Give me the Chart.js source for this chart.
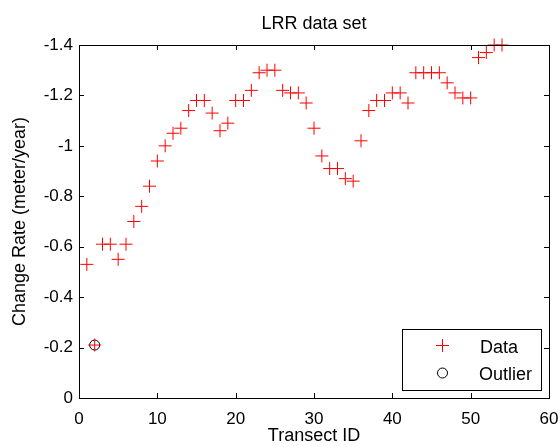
<!DOCTYPE html>
<html lang="en">
<head>
    <meta charset="UTF-8">
    <title>LRR data set</title>
    <script src="https://cdn.jsdelivr.net/npm/chart.js"></script>
    <style>
        body {
            margin: 0;
            background-color: white;
        }
        #lrrChart {
            display: block;
        }
    </style>
</head>
<body>
    <canvas id="lrrChart" width="560" height="447"></canvas>

    <script>
        // values
        const transectIds = [1, 2, 3, 4, 5, 6, 7, 8, 9, 10, 11, 12, 13, 14, 15, 16, 17, 18,
            19, 20, 21, 22, 23, 24, 25, 26, 27, 28, 29, 30, 31, 32, 33, 34, 35, 36, 37,
            38, 39, 40, 41, 42, 43, 44, 45, 46, 47, 48, 49, 50, 51, 52, 53, 54];
        const changeRates = [-0.53, -0.21, -0.61, -0.61, -0.55, -0.61, -0.70, -0.76, -0.84, -0.94,
            -1.00, -1.05, -1.07, -1.14, -1.18, -1.18, -1.13, -1.06, -1.09, -1.18,
            -1.18, -1.22, -1.29, -1.30, -1.30, -1.22, -1.21, -1.21, -1.17, -1.07,
            -0.96, -0.91, -0.91, -0.87, -0.86, -1.02, -1.14, -1.18, -1.18, -1.21,
            -1.21, -1.17, -1.29, -1.29, -1.29, -1.29, -1.25, -1.21, -1.19, -1.19,
            -1.35, -1.37, -1.40, -1.40];
        const outlierIds = [2];
        const outlierRates = [-0.21];
        const xTicks = [0, 10, 20, 30, 40, 50, 60];
        const yTicks = [0, -0.2, -0.4, -0.6, -0.8, -1, -1.2, -1.4];

        const FONT = 'Liberation Sans, Arial, sans-serif';

        const toPoints = (xs, ys) => xs.map((x, i) => ({ x: x, y: ys[i] }));

        // title, box with inward ticks on all sides, and the legend
        const matlabFrame = {
            id: 'matlabFrame',
            afterDraw(chart) {
                const ctx = chart.ctx;
                const a = chart.chartArea;
                const xs = chart.scales.x;
                const ys = chart.scales.y;
                ctx.save();
                ctx.strokeStyle = '#000';
                ctx.lineWidth = 1;
                ctx.strokeRect(Math.round(a.left) + 0.5, Math.round(a.top) + 0.5,
                    Math.round(a.right - a.left), Math.round(a.bottom - a.top));

                ctx.beginPath();
                xTicks.forEach(v => {
                    const px = Math.round(xs.getPixelForValue(v)) + 0.5;
                    ctx.moveTo(px, a.bottom); ctx.lineTo(px, a.bottom - 5);
                    ctx.moveTo(px, a.top); ctx.lineTo(px, a.top + 5);
                });
                yTicks.forEach(v => {
                    const py = Math.round(ys.getPixelForValue(v)) + 0.5;
                    ctx.moveTo(a.left, py); ctx.lineTo(a.left + 5, py);
                    ctx.moveTo(a.right, py); ctx.lineTo(a.right - 5, py);
                });
                ctx.stroke();

                // title
                ctx.fillStyle = '#000';
                ctx.font = '18px ' + FONT;
                ctx.textAlign = 'center';
                ctx.textBaseline = 'alphabetic';
                ctx.fillText('LRR data set', (a.left + a.right) / 2, 29);

                // legend
                const lx = 402.5, ly = 329.5, lw = 139, lh = 61;
                ctx.fillStyle = '#fff';
                ctx.fillRect(lx, ly, lw, lh);
                ctx.strokeStyle = '#000';
                ctx.strokeRect(lx, ly, lw, lh);

                ctx.strokeStyle = '#ff0000';
                ctx.beginPath();
                ctx.moveTo(436, 345.5); ctx.lineTo(449, 345.5);
                ctx.moveTo(442.5, 339); ctx.lineTo(442.5, 352);
                ctx.stroke();

                ctx.strokeStyle = '#000';
                ctx.beginPath();
                ctx.arc(442.5, 373, 5, 0, Math.PI * 2);
                ctx.stroke();

                ctx.fillStyle = '#000';
                ctx.font = '18px ' + FONT;
                ctx.textAlign = 'left';
                ctx.fillText('Data', 480, 353);
                ctx.fillText('Outlier', 479, 380);
                ctx.restore();
            }
        };

        new Chart(document.getElementById('lrrChart'), {
            type: 'scatter',
            data: {
                datasets: [{
                    label: 'Data',
                    data: toPoints(transectIds, changeRates),
                    pointStyle: 'cross',
                    pointRadius: 6.5,
                    pointHoverRadius: 6.5,
                    borderColor: '#ff0000',
                    backgroundColor: '#ff0000',
                    pointBorderWidth: 1,
                    clip: false
                }, {
                    label: 'Outlier',
                    data: toPoints(outlierIds, outlierRates),
                    pointStyle: 'circle',
                    pointRadius: 5,
                    pointHoverRadius: 5,
                    borderColor: '#000',
                    backgroundColor: 'rgba(0,0,0,0)',
                    pointBorderWidth: 1,
                    clip: false
                }]
            },
            options: {
                responsive: false,
                animation: false,
                devicePixelRatio: 1,
                layout: {
                    padding: { top: 45, right: 11, left: 0, bottom: 0 }
                },
                plugins: {
                    legend: { display: false },
                    title: { display: false },
                    tooltip: { enabled: false }
                },
                scales: {
                    x: {
                        type: 'linear',
                        min: 0,
                        max: 60,
                        afterFit: s => { s.height = 49; s.paddingLeft = 0; s.paddingRight = 0; },
                        afterBuildTicks: s => { s.ticks = xTicks.map(v => ({ value: v })); },
                        grid: { display: false, drawTicks: false },
                        border: { display: false },
                        ticks: {
                            color: '#000',
                            padding: 11,
                            font: { family: FONT, size: 17 }
                        },
                        title: {
                            display: true,
                            text: 'Transect ID',
                            color: '#000',
                            padding: { top: 0, bottom: 0 },
                            font: { family: FONT, size: 18 }
                        }
                    },
                    y: {
                        type: 'linear',
                        min: -1.4,
                        max: 0,
                        reverse: true,
                        afterFit: s => { s.width = 79; s.paddingTop = 0; s.paddingBottom = 0; },
                        afterBuildTicks: s => { s.ticks = yTicks.map(v => ({ value: v })); },
                        grid: { display: false, drawTicks: false },
                        border: { display: false },
                        ticks: {
                            color: '#000',
                            padding: 6,
                            font: { family: FONT, size: 17 },
                            callback: v => String(Math.round(v * 10) / 10)
                        },
                        title: {
                            display: true,
                            text: 'Change Rate (meter/year)',
                            color: '#000',
                            padding: { top: 9, bottom: 0 },
                            font: { family: FONT, size: 18 }
                        }
                    }
                }
            },
            plugins: [matlabFrame]
        });
    </script>
</body>
</html>
